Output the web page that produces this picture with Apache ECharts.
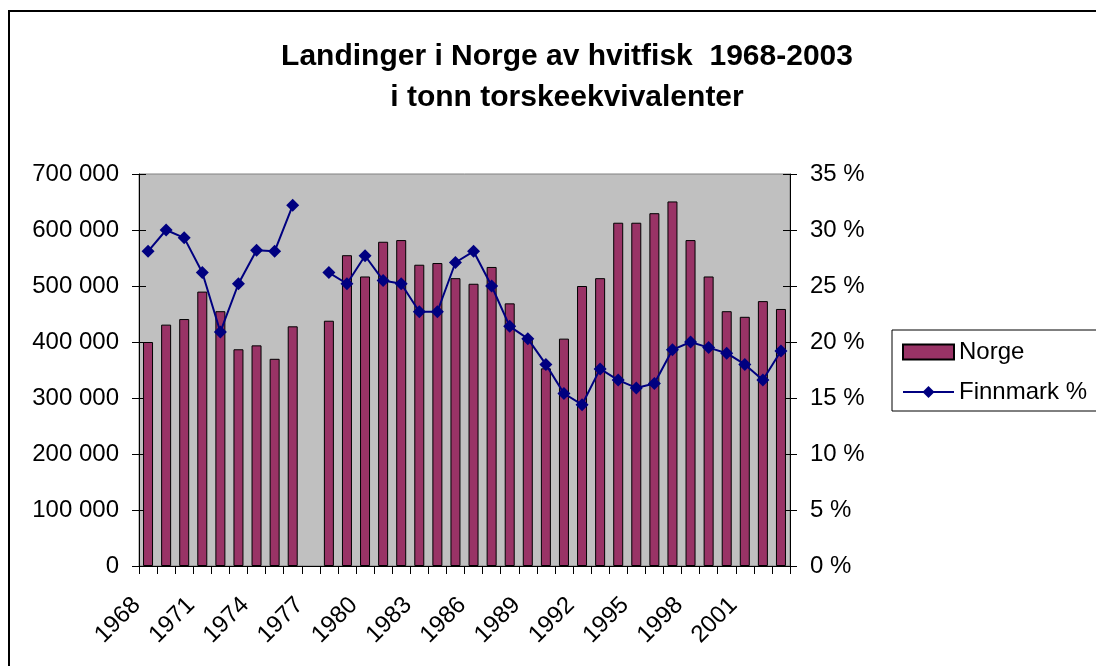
<!DOCTYPE html>
<html>
<head>
<meta charset="utf-8">
<title>Landinger i Norge av hvitfisk 1968-2003</title>
<script src="https://cdn.jsdelivr.net/npm/echarts@6/dist/echarts.min.js"></script>
<style>
  html, body { margin: 0; padding: 0; background: #fff; }
  #chart { width: 1096px; height: 666px; }
</style>
</head>
<body>
<div id="chart"></div>
<script>
// years 1968-2003, 1977 has no data
var years = ['1968','1969','1970','1971','1972','1973','1974','1975','1976','1977',
             '1978','1979','1980','1981','1982','1983','1984','1985','1986','1987',
             '1988','1989','1990','1991','1992','1993','1994','1995','1996','1997',
             '1998','1999','2000','2001','2002','2003'];

// Norge, tonn torskeekvivalenter
var norge = [400000, 431000, 441000, 490000, 455000, 387000, 394000, 370000, 428000, null,
             438000, 555000, 517000, 579000, 582000, 538000, 541000, 514000, 504000, 534000,
             469000, 408000, 353000, 406000, 500000, 514000, 613000, 613000, 630000, 651000,
             582000, 517000, 455000, 445000, 473000, 459000];

// Finnmark andel, %
var finnmark = [28.1, 30.0, 29.3, 26.2, 20.9, 25.2, 28.2, 28.1, 32.2, null,
                26.2, 25.2, 27.7, 25.5, 25.2, 22.7, 22.7, 27.1, 28.1, 25.0,
                21.4, 20.3, 18.0, 15.4, 14.4, 17.6, 16.6, 15.9, 16.3, 19.3,
                20.0, 19.5, 19.0, 18.0, 16.6, 19.2];

var FONT = '"Liberation Sans", Arial, sans-serif';

var myChart = echarts.init(document.getElementById('chart'));

function spaced(v) {
    return String(v).replace(/\B(?=(\d{3})+(?!\d))/g, ' ');
}

// helper axis: only the inner half of the crossing ticks
function innerTicks(pos, max, interval) {
    return {
        type: 'value', position: pos, min: 0, max: max, interval: interval,
        splitLine: { show: false },
        axisLine: { show: false },
        axisLabel: { show: false },
        axisTick: { show: true, inside: true, length: 7, lineStyle: { color: '#000' } }
    };
}

var option = {
    animation: false,
    textStyle: { fontFamily: FONT, color: '#000' },
    graphic: [{
        type: 'rect',
        z: -10,
        shape: { x: 9, y: 11, width: 1200, height: 800 },
        style: { fill: 'none', stroke: '#000', lineWidth: 2 }
    }],
    title: {
        text: 'Landinger i Norge av hvitfisk  1968-2003\ni tonn torskeekvivalenter',
        left: 562,
        top: 31,
        textAlign: 'center',
        textStyle: {
            fontFamily: FONT,
            fontSize: 30,
            fontWeight: 'bold',
            lineHeight: 41,
            color: '#000'
        }
    },
    legend: {
        orient: 'vertical',
        left: 892,
        top: 330,
        padding: [10, 20, 7, 10],
        itemGap: 16,
        itemWidth: 51,
        itemHeight: 15,
        backgroundColor: '#fff',
        borderColor: '#000',
        borderWidth: 1,
        borderRadius: 0,
        textStyle: { fontFamily: FONT, fontSize: 24, color: '#000', lineHeight: 24 },
        data: [{ name: 'Norge', icon: 'rect' }, { name: 'Finnmark %' }]
    },
    grid: {
        left: 139,
        right: 306,
        top: 174,
        bottom: 100,
        show: true,
        backgroundColor: '#c0c0c0',
        borderColor: '#808080',
        borderWidth: 1
    },
    xAxis: {
        type: 'category',
        data: years,
        boundaryGap: true,
        axisLine: { lineStyle: { color: '#000', width: 1 } },
        axisTick: { show: true, interval: 0, length: 8, lineStyle: { color: '#000' } },
        axisLabel: {
            interval: 2,
            rotate: 45,
            fontSize: 24,
            fontFamily: FONT,
            color: '#000',
            margin: 24,
            padding: [0, 16, 0, 0]
        }
    },
    yAxis: [{
        type: 'value',
        min: 0,
        max: 700000,
        interval: 100000,
        splitLine: { show: false },
        axisLine: { show: true, lineStyle: { color: '#000' } },
        axisTick: { show: true, length: 7, lineStyle: { color: '#000' } },
        axisLabel: {
            fontSize: 24,
            fontFamily: FONT,
            color: '#000',
            margin: 20,
            formatter: spaced
        }
    }, {
        type: 'value',
        min: 0,
        max: 35,
        interval: 5,
        splitLine: { show: false },
        axisLine: { show: true, lineStyle: { color: '#000' } },
        axisTick: { show: true, length: 7, lineStyle: { color: '#000' } },
        axisLabel: {
            fontSize: 24,
            fontFamily: FONT,
            color: '#000',
            margin: 20,
            formatter: '{value} %'
        }
    },
    innerTicks('left', 700000, 100000),
    innerTicks('right', 35, 5)],
    series: [{
        name: 'Norge',
        type: 'bar',
        data: norge,
        barWidth: 10,
        itemStyle: { color: '#993366', borderColor: '#000', borderWidth: 1 }
    }, {
        name: 'Finnmark %',
        type: 'line',
        yAxisIndex: 1,
        data: finnmark,
        connectNulls: false,
        showAllSymbol: true,
        symbol: 'diamond',
        symbolSize: 13,
        lineStyle: { color: '#000080', width: 2 },
        itemStyle: { color: '#000080' }
    }]
};

if (option && typeof option === "object") {
    myChart.setOption(option, true);
}
</script>
</body>
</html>
